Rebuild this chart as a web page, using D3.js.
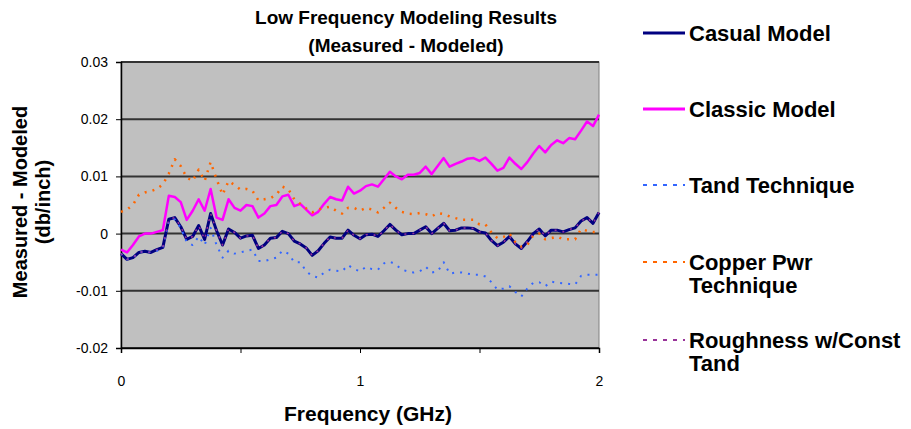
<!DOCTYPE html>
<html>
<head>
<meta charset="utf-8">
<script src="https://cdn.jsdelivr.net/npm/d3@7"></script>
<style>
  body { margin: 0; background: #fff; }
  text { font-family: Arial, "Liberation Sans", sans-serif; }
</style>
</head>
<body>
<svg id="chart" width="911" height="429"></svg>
<script>
// frequency points (GHz), 0.025 step
var freq = [0, 0.025, 0.05, 0.075, 0.1, 0.125, 0.15, 0.175, 0.2, 0.225,
  0.25, 0.275, 0.3, 0.325, 0.35, 0.375, 0.4, 0.425, 0.45, 0.475,
  0.5, 0.525, 0.55, 0.575, 0.6, 0.625, 0.65, 0.675, 0.7, 0.725,
  0.75, 0.775, 0.8, 0.825, 0.85, 0.875, 0.9, 0.925, 0.95, 0.975,
  1, 1.025, 1.05, 1.075, 1.1, 1.125, 1.15, 1.175, 1.2, 1.225,
  1.25, 1.275, 1.3, 1.325, 1.35, 1.375, 1.4, 1.425, 1.45, 1.475,
  1.5, 1.525, 1.55, 1.575, 1.6, 1.625, 1.65, 1.675, 1.7, 1.725,
  1.75, 1.775, 1.8, 1.825, 1.85, 1.875, 1.9, 1.925, 1.95, 1.975, 2];

var casualVals = [-0.0035, -0.0045, -0.0042, -0.0033, -0.0031, -0.0033, -0.0028, -0.0024, 0.0025, 0.0028,
  0.0012, -0.001, -0.0005, 0.0014, -0.001, 0.0035, 0.0005, -0.002, 0.0008, 0.0002,
  -0.0008, -0.0004, -0.0003, -0.0026, -0.002, -0.0008, -0.0007, 0.0004, 0.0, -0.0013,
  -0.0018, -0.0025, -0.0038, -0.003, -0.0017, -0.0006, -0.0008, -0.0008, 0.0006, -0.0003,
  -0.0009, -0.0002, -0.0001, -0.0005, 0.0005, 0.0016, 0.0006, -0.0002, 0.0, 0.0,
  0.0006, 0.0012, 0.0, 0.0009, 0.0018, 0.0005, 0.0006, 0.001, 0.001, 0.0009,
  0.0003, 0.0001, -0.0012, -0.0021, -0.0015, -0.0005, -0.0018, -0.0026, -0.0014, 0.0,
  0.0008, -0.0004, 0.0006, 0.0006, 0.0003, 0.0007, 0.001, 0.0022, 0.0028, 0.0018, 0.0037];

var classicVals = [-0.0028, -0.0033, -0.002, -0.0005, 0.0, 0.0, 0.0003, 0.0006, 0.0066, 0.0064,
  0.0055, 0.0024, 0.004, 0.006, 0.004, 0.0078, 0.0028, 0.0024, 0.006, 0.0045,
  0.004, 0.005, 0.0048, 0.0028, 0.0035, 0.0048, 0.005, 0.0065, 0.0068, 0.0048,
  0.0052, 0.0042, 0.0032, 0.0038, 0.0052, 0.0064, 0.006, 0.0058, 0.0082, 0.007,
  0.0075, 0.0083, 0.0086, 0.0082, 0.0095, 0.0108, 0.01, 0.0095, 0.0103, 0.0103,
  0.0106, 0.0117, 0.0104, 0.0118, 0.0132, 0.0117, 0.0122, 0.0126, 0.0131, 0.0132,
  0.0127, 0.0133, 0.0122, 0.011, 0.0115, 0.0133, 0.0122, 0.0113, 0.0125, 0.014,
  0.0153, 0.0142, 0.0155, 0.0163, 0.0158, 0.0167, 0.0165, 0.018, 0.0196, 0.0188, 0.0208];

var tandVals = [-0.0035, -0.0045, -0.0042, -0.0033, -0.0031, -0.0033, -0.003, -0.0025, 0.0022, 0.0025,
  0.001, -0.0015, -0.002, -0.0005, -0.002, 0.001, -0.002, -0.0042, -0.003, -0.0035,
  -0.0033, -0.003, -0.0028, -0.0048, -0.0048, -0.0045, -0.0042, -0.003, -0.0035, -0.005,
  -0.005, -0.0066, -0.0074, -0.0077, -0.0068, -0.0063, -0.0065, -0.0066, -0.0055, -0.0062,
  -0.0066, -0.0058, -0.0062, -0.0063, -0.0052, -0.0049, -0.0054, -0.0063, -0.0066, -0.0068,
  -0.0066, -0.0058, -0.0068, -0.0066, -0.005, -0.007, -0.0068, -0.0068, -0.007, -0.0072,
  -0.0072, -0.0075, -0.0085, -0.0098, -0.0096, -0.0092, -0.0102, -0.011, -0.0096, -0.0086,
  -0.0085, -0.0092, -0.0084, -0.0086, -0.0087, -0.0088, -0.0089, -0.0074, -0.0072, -0.0072, -0.0072];

var copperVals = [0.0038, 0.0042, 0.005, 0.0068, 0.0072, 0.0074, 0.0078, 0.0086, 0.0105, 0.013,
  0.0118, 0.0098, 0.0092, 0.0112, 0.0092, 0.0125, 0.0095, 0.0068, 0.0092, 0.0085,
  0.0077, 0.0078, 0.0075, 0.0058, 0.006, 0.0062, 0.0068, 0.0082, 0.0078, 0.006,
  0.0052, 0.0044, 0.0037, 0.0042, 0.0045, 0.0047, 0.004, 0.0035, 0.0045, 0.0045,
  0.004, 0.0045, 0.0042, 0.0037, 0.0045, 0.0054, 0.0045, 0.0038, 0.0035, 0.0034,
  0.0036, 0.0034, 0.003, 0.0036, 0.0034, 0.003, 0.0027, 0.0024, 0.0024, 0.0024,
  0.0016, 0.0016, 0.0002, -0.0008, -0.0006, 0.0, -0.0015, -0.0023, -0.002, -0.0003,
  0.0, -0.001, -0.0008, -0.0005, -0.001, -0.001, -0.001, 0.0008, 0.0005, 0.0003, 0.0003];

// roughness curve sits right on top of the casual model curve
var roughnessVals = casualVals.slice();

var seriesNames = ["Casual Model", "Classic Model", "Tand Technique", "Copper Pwr Technique", "Roughness w/Const Tand"];
var yTicks = [-0.02, -0.01, 0, 0.01, 0.02, 0.03];
var yTickLabels = ["-0.02", "-0.01", "0", "0.01", "0.02", "0.03"];
var xTicks = [0, 0.5, 1, 1.5, 2];
var xTickLabels = ["0", "", "1", "", "2"];

var svg = d3.select("#chart");

var plot = { left: 121, right: 599, top: 62, bottom: 348 };

var xScale = d3.scaleLinear().domain([0, 2]).range([plot.left, plot.right]);
var yScale = d3.scaleLinear().domain([-0.02, 0.03]).range([plot.bottom, plot.top]);

// plot background
svg.append("rect")
    .attr("x", plot.left)
    .attr("y", plot.top)
    .attr("width", plot.right - plot.left)
    .attr("height", plot.bottom - plot.top)
    .attr("fill", "#c0c0c0")
    .attr("stroke", "#808080")
    .attr("stroke-width", 1);

// gridlines
svg.append("g")
    .selectAll("line")
    .data(yTicks)
    .join("line")
    .attr("x1", plot.left)
    .attr("x2", plot.right)
    .attr("y1", d => yScale(d))
    .attr("y2", d => yScale(d))
    .attr("stroke", "#333")
    .attr("stroke-width", 2);

// y axis
var yAxis = svg.append("g")
    .attr("transform", "translate(" + plot.left + ",0)")
    .call(d3.axisLeft(yScale).tickValues(yTicks).tickSize(5).tickPadding(8)
        .tickFormat((d, i) => yTickLabels[i]));
yAxis.select(".domain").attr("stroke", "#000").attr("stroke-width", 1.5);
yAxis.selectAll("text").style("font-size", "14px").style("font-family", "Arial, 'Liberation Sans', sans-serif").attr("fill", "#000");

// x axis
var xAxis = svg.append("g")
    .attr("transform", "translate(0," + plot.bottom + ")")
    .call(d3.axisBottom(xScale).tickValues(xTicks).tickSize(5).tickPadding(23)
        .tickFormat((d, i) => xTickLabels[i]));
xAxis.select(".domain").attr("stroke", "#000").attr("stroke-width", 1.5);
xAxis.selectAll("text").style("font-size", "14px").style("font-family", "Arial, 'Liberation Sans', sans-serif").attr("fill", "#000");

// lines
var line = d3.line()
    .x((d, i) => xScale(freq[i]))
    .y(d => yScale(d));

var series = [
    { name: seriesNames[0], vals: casualVals, color: "#000080", width: 3, dash: null },
    { name: seriesNames[1], vals: classicVals, color: "#ff00ff", width: 2.5, dash: null },
    { name: seriesNames[2], vals: tandVals, color: "#3366ff", width: 2, dash: "2,6" },
    { name: seriesNames[3], vals: copperVals, color: "#ff6600", width: 2.5, dash: "2,6" },
    { name: seriesNames[4], vals: roughnessVals, color: "#993399", width: 1.5, dash: "2,6" }
];

svg.append("g")
    .selectAll("path")
    .data(series)
    .join("path")
    .attr("fill", "none")
    .attr("stroke", d => d.color)
    .attr("stroke-width", d => d.width)
    .attr("stroke-dasharray", d => d.dash)
    .attr("stroke-linejoin", "round")
    .attr("d", d => line(d.vals));

// title
svg.append("text")
    .attr("x", 406).attr("y", 24)
    .attr("text-anchor", "middle")
    .style("font-size", "19px").style("font-weight", "bold")
    .text("Low Frequency Modeling Results");
svg.append("text")
    .attr("x", 406).attr("y", 52)
    .attr("text-anchor", "middle")
    .style("font-size", "19px").style("font-weight", "bold")
    .text("(Measured - Modeled)");

// axis titles
svg.append("text")
    .attr("transform", "translate(27,202) rotate(-90)")
    .attr("text-anchor", "middle")
    .style("font-size", "20px").style("font-weight", "bold")
    .text("Measured - Modeled");
svg.append("text")
    .attr("transform", "translate(50,202) rotate(-90)")
    .attr("text-anchor", "middle")
    .style("font-size", "20px").style("font-weight", "bold")
    .text("(db/inch)");
svg.append("text")
    .attr("x", 368).attr("y", 421)
    .attr("text-anchor", "middle")
    .style("font-size", "21px").style("font-weight", "bold")
    .text("Frequency (GHz)");

// legend
var legendRows = [
    { y: 33, lines: ["Casual Model"] },
    { y: 109, lines: ["Classic Model"] },
    { y: 185, lines: ["Tand Technique"] },
    { y: 262, lines: ["Copper Pwr", "Technique"] },
    { y: 340, lines: ["Roughness w/Const", "Tand"] }
];

var legend = svg.append("g");
legendRows.forEach(function (row, i) {
    var s = series[i];
    legend.append("line")
        .attr("x1", 643).attr("x2", 685)
        .attr("y1", row.y).attr("y2", row.y)
        .attr("stroke", s.color)
        .attr("stroke-width", s.dash ? 2 : 3)
        .attr("stroke-dasharray", s.dash ? "4,6" : null);
    row.lines.forEach(function (t, j) {
        legend.append("text")
            .attr("x", 689)
            .attr("y", row.y + 8 + j * 23)
            .style("font-size", "22px").style("font-weight", "bold")
            .text(t);
    });
});
</script>
</body>
</html>
